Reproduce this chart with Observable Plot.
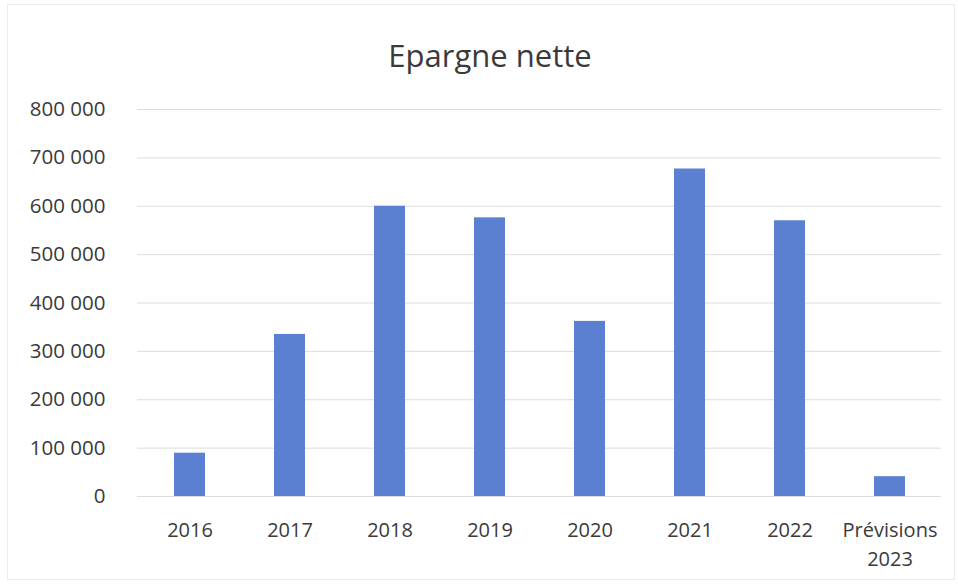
<!DOCTYPE html>
<html><head><meta charset="utf-8">
<script src="https://cdn.jsdelivr.net/npm/d3@7"></script>
<script src="https://cdn.jsdelivr.net/npm/@observablehq/plot@0.6"></script>
<style>
body{margin:0;background:#fff;font-family:"Open Sans",sans-serif;}
#wrap{position:relative;width:958px;height:584px;}
#title{position:absolute;left:0;top:35px;width:958px;padding-left:22px;box-sizing:border-box;text-align:center;font-size:31px;color:#3a3a3a;line-height:40px;}
#chart{position:absolute;left:0;top:90px;}
#frame{position:absolute;left:7px;top:4px;width:946px;height:574px;border:1px solid #ececec;}
</style></head>
<body><div id="wrap"><div id="frame"></div><div id="title">Epargne nette</div><div id="chart"></div></div>
<script>
const categories = ["2016","2017","2018","2019","2020","2021","2022","Prévisions\n2023"];
const values = [89500, 335000, 600000, 576000, 362000, 677000, 570000, 41000];
const yTicks = [0,100000,200000,300000,400000,500000,600000,700000,800000];

const data = categories.map((c,i)=>({cat:c, v:values[i]}));
const fmt = d => d3.format(",")(d).replace(/,/g, " ");

const chart = Plot.plot({
  width: 958,
  height: 494,
  marginTop: 19,
  marginBottom: 88,
  marginLeft: 137,
  marginRight: 17,
  style: {fontFamily: "Open Sans", fontSize: "20px", color: "#3a3a3a", background: "transparent"},
  x: {domain: categories, paddingInner: 0.69, paddingOuter: 0.345, label: null, tickSize: 0, tickPadding: 20},
  y: {domain: [0, 800000], ticks: yTicks, tickFormat: fmt, label: null, tickSize: 0, tickPadding: 32},
  marks: [
    Plot.gridY(yTicks, {stroke: "#dcdcdc", strokeOpacity: 1}),
    Plot.barY(data, {x: "cat", y: "v", fill: "#5b80d1"}),
    Plot.axisX({tickSize: 0, tickPadding: 20, fontSize: 20, lineHeight: 1.45}),
    Plot.axisY({ticks: yTicks, tickFormat: fmt, tickSize: 0, tickPadding: 32, fontSize: 20.5})
  ]
});
document.getElementById("chart").appendChild(chart);
</script></body></html>
